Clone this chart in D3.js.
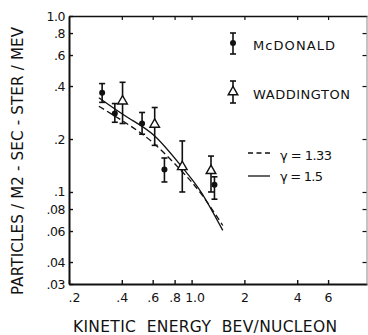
<!DOCTYPE html>
<html>
<head>
<meta charset="utf-8">
<script src="https://cdn.jsdelivr.net/npm/d3@7"></script>
<style>
  html, body { margin: 0; padding: 0; background: #fff; }
  text { font-family: "DejaVu Sans", sans-serif; fill: #111; }
</style>
</head>
<body>
<div id="chart"></div>
<script>
// tick values and labels
const xTicks = [0.2, 0.4, 0.6, 0.8, 1, 2, 4, 6];
const xTickLabels = ['.2', '.4', '.6', '.8', '1.0', '2', '4', '6'];
const yTicks = [0.03, 0.04, 0.06, 0.08, 0.1, 0.2, 0.4, 0.6, 0.8, 1.0];
const yTickLabels = ['.03', '.04', '.06', '.08', '.1', '.2', '.4', '.6', '.8', '1.0'];

// McDonald points (filled circles) with error bars
const mcdEnergy = [0.309, 0.365, 0.522, 0.700, 1.35];
const mcdFlux = [0.366, 0.279, 0.245, 0.134, 0.110];
const mcdHigh = [0.413, 0.318, 0.283, 0.156, 0.122];
const mcdLow = [0.323, 0.249, 0.213, 0.114, 0.091];

// Waddington points (open triangles)
const wadEnergy = [0.404, 0.616, 0.885, 1.29];
const wadFlux = [0.328, 0.242, 0.139, 0.132];
const wadHigh = [0.420, 0.302, 0.195, 0.160];
const wadLow = [0.245, 0.184, 0.100, 0.100];

// model curves
const curveEnergy = [0.296, 0.435, 0.616, 0.874, 1.135, 1.506];
const gamma15 = [0.343, 0.264, 0.208, 0.140, 0.0996, 0.0605];
const gamma133 = [0.307, 0.242, 0.187, 0.132, 0.0975, 0.0645];

const width = 368, height = 335;
const margin = { top: 16, right: 1, bottom: 51, left: 69 };

const svg = d3.select('#chart').append('svg')
  .attr('width', width)
  .attr('height', height);

svg.append('rect').attr('width', width).attr('height', height).attr('fill', '#fff');

const x = d3.scaleLog()
  .domain([0.2, 10])
  .range([margin.left, width - margin.right]);

const y = d3.scaleLog()
  .domain([0.03, 1.0])
  .range([height - margin.bottom, margin.top]);

const ink = '#111';

// axes
const axLeft = svg.append('g')
  .attr('transform', `translate(${margin.left},0)`)
  .call(d3.axisLeft(y).tickValues(yTicks).tickFormat((d, i) => yTickLabels[i])
    .tickSizeInner(-4).tickSizeOuter(0).tickPadding(4));
axLeft.select('.domain').attr('stroke', ink).attr('stroke-width', 2);
axLeft.selectAll('.tick line').attr('stroke', ink).attr('stroke-width', 1.4);
axLeft.selectAll('.tick text').style('font-size', '12.5px').attr('fill', ink)
  .attr('letter-spacing', '-0.5px');

const axBottom = svg.append('g')
  .attr('transform', `translate(0,${height - margin.bottom})`)
  .call(d3.axisBottom(x).tickValues(xTicks).tickFormat((d, i) => xTickLabels[i])
    .tickSizeInner(-4).tickSizeOuter(0).tickPadding(9));
axBottom.select('.domain').attr('stroke', ink).attr('stroke-width', 2);
axBottom.selectAll('.tick line').attr('stroke', ink).attr('stroke-width', 1.4);
axBottom.selectAll('.tick text').style('font-size', '12.5px').attr('fill', ink)
  .attr('dx', (d, i) => i === 0 ? 5 : (i === 4 ? 3 : 0));

const axTop = svg.append('g')
  .attr('transform', `translate(0,${margin.top})`)
  .call(d3.axisTop(x).tickValues(xTicks.slice(1)).tickFormat('')
    .tickSizeInner(-4).tickSizeOuter(0));
axTop.select('.domain').attr('stroke', ink).attr('stroke-width', 1.5);
axTop.selectAll('.tick line').attr('stroke', ink).attr('stroke-width', 1.2);

const axRight = svg.append('g')
  .attr('transform', `translate(${width - margin.right - 0.5},0)`)
  .call(d3.axisRight(y).tickValues(yTicks.slice(1, -1)).tickFormat('')
    .tickSizeInner(-4).tickSizeOuter(0));
axRight.select('.domain').attr('stroke', '#888').attr('stroke-width', 1);
axRight.selectAll('.tick line').attr('stroke', ink).attr('stroke-width', 1.2);

// axis titles
svg.append('text')
  .attr('x', 205).attr('y', 332)
  .attr('text-anchor', 'middle')
  .attr('textLength', 264)
  .attr('lengthAdjust', 'spacing')
  .style('white-space', 'pre')
  .style('font-size', '15.5px')
  .text('KINETIC  ENERGY  BEV/NUCLEON');

svg.append('text')
  .attr('transform', 'translate(23,161) rotate(-90)')
  .attr('text-anchor', 'middle')
  .attr('textLength', 268)
  .attr('lengthAdjust', 'spacing')
  .style('font-size', '15px')
  .text('PARTICLES / M2 - SEC - STER / MEV');

// model curves
const line = d3.line()
  .x(d => x(d[0]))
  .y(d => y(d[1]))
  .curve(d3.curveNatural);

svg.append('path')
  .datum(curveEnergy.map((e, i) => [e, gamma15[i]]))
  .attr('d', line)
  .attr('fill', 'none')
  .attr('stroke', ink)
  .attr('stroke-width', 1.3);

svg.append('path')
  .datum(curveEnergy.map((e, i) => [e, gamma133[i]]))
  .attr('d', line)
  .attr('fill', 'none')
  .attr('stroke', ink)
  .attr('stroke-width', 1.3)
  .attr('stroke-dasharray', '6,3.5');

// error bars helper
const cap = 3;
function errorBars(g, xs, lo, hi) {
  const eb = g.selectAll(null).data(xs).enter().append('g');
  eb.append('line')
    .attr('x1', d => x(d)).attr('x2', d => x(d))
    .attr('y1', (d, i) => y(lo[i])).attr('y2', (d, i) => y(hi[i]));
  eb.append('line')
    .attr('x1', d => x(d) - cap).attr('x2', d => x(d) + cap)
    .attr('y1', (d, i) => y(hi[i])).attr('y2', (d, i) => y(hi[i]));
  eb.append('line')
    .attr('x1', d => x(d) - cap).attr('x2', d => x(d) + cap)
    .attr('y1', (d, i) => y(lo[i])).attr('y2', (d, i) => y(lo[i]));
}

const marks = svg.append('g').attr('stroke', ink).attr('stroke-width', 1.6);
errorBars(marks, mcdEnergy, mcdLow, mcdHigh);
errorBars(marks, wadEnergy, wadLow, wadHigh);

const tri = d3.symbol().type(d3.symbolTriangle).size(40);

svg.selectAll('.mcd')
  .data(mcdEnergy)
  .enter().append('circle')
  .attr('class', 'mcd')
  .attr('cx', d => x(d))
  .attr('cy', (d, i) => y(mcdFlux[i]))
  .attr('r', 3)
  .attr('fill', ink);

svg.selectAll('.wad')
  .data(wadEnergy)
  .enter().append('path')
  .attr('class', 'wad')
  .attr('d', tri)
  .attr('transform', (d, i) => `translate(${x(d)},${y(wadFlux[i])})`)
  .attr('fill', '#fff')
  .attr('stroke', ink)
  .attr('stroke-width', 1.4);

// legend
const lg = svg.append('g').attr('stroke', ink).attr('stroke-width', 1.6);
function legendBar(cx, top, bottom) {
  lg.append('line').attr('x1', cx).attr('x2', cx).attr('y1', top).attr('y2', bottom);
  lg.append('line').attr('x1', cx - cap).attr('x2', cx + cap).attr('y1', top).attr('y2', top);
  lg.append('line').attr('x1', cx - cap).attr('x2', cx + cap).attr('y1', bottom).attr('y2', bottom);
}
legendBar(233, 33, 54);
lg.append('circle').attr('cx', 233).attr('cy', 43).attr('r', 3).attr('fill', ink).attr('stroke', 'none');
legendBar(233, 81, 103);
lg.append('path').attr('d', tri).attr('transform', 'translate(233,92)')
  .attr('fill', '#fff').attr('stroke-width', 1.4);

svg.append('text').attr('x', 253).attr('y', 50)
  .attr('textLength', 82).style('font-size', '13px').text('McDONALD');
svg.append('text').attr('x', 253).attr('y', 98.5)
  .attr('textLength', 97).style('font-size', '13px').text('WADDINGTON');

svg.append('line').attr('x1', 248).attr('x2', 270).attr('y1', 153).attr('y2', 153)
  .attr('stroke', ink).attr('stroke-width', 1.3).attr('stroke-dasharray', '5,3.5');
svg.append('line').attr('x1', 248).attr('x2', 270).attr('y1', 176).attr('y2', 176)
  .attr('stroke', ink).attr('stroke-width', 1.3);

svg.append('text').attr('x', 280).attr('y', 159.5)
  .attr('textLength', 52).style('font-size', '13px').text('γ = 1.33');
svg.append('text').attr('x', 280).attr('y', 180.5)
  .attr('textLength', 43).style('font-size', '13px').text('γ = 1.5');
</script>
</body>
</html>
